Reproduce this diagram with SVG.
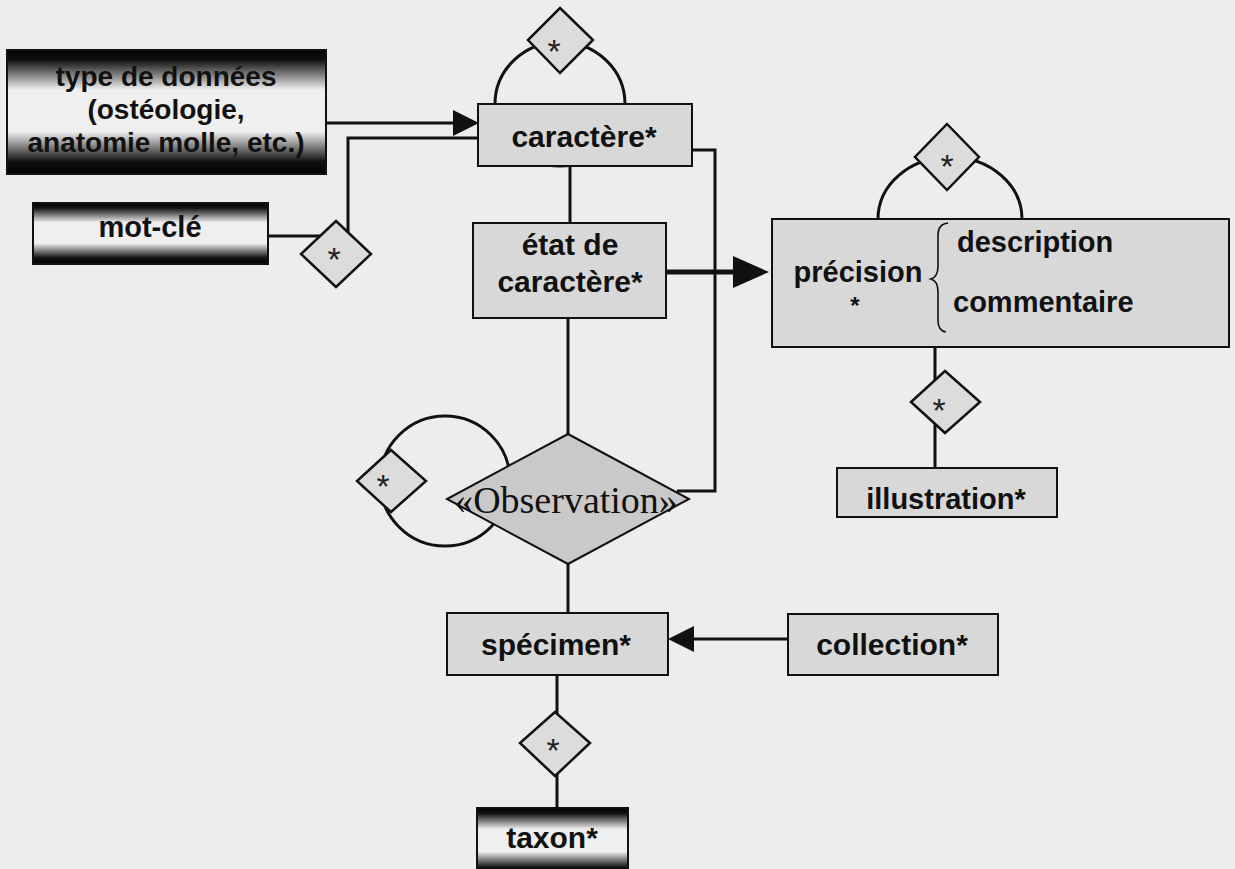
<svg xmlns="http://www.w3.org/2000/svg" width="1235" height="869" viewBox="0 0 1235 869">
  <defs>
    <linearGradient id="dark" x1="0" y1="0" x2="0" y2="1">
      <stop offset="0" stop-color="#000"/>
      <stop offset="0.08" stop-color="#111"/>
      <stop offset="0.32" stop-color="#efefef"/>
      <stop offset="0.66" stop-color="#efefef"/>
      <stop offset="0.9" stop-color="#111"/>
      <stop offset="1" stop-color="#000"/>
    </linearGradient>
    <style>
      .box { fill: #d8d8d8; stroke: #111; stroke-width: 2; }
      .dark { fill: url(#dark); stroke: #111; stroke-width: 2; }
      .dia { fill: #dcdcdc; stroke: #111; stroke-width: 2.5; }
      .obs { fill: #c9c9c9; stroke: #111; stroke-width: 2; }
      .ln { fill: none; stroke: #111; stroke-width: 3; }
      .thick { fill: none; stroke: #111; stroke-width: 5; }
      .head { fill: #111; }
      .lbl { font-family: "Liberation Sans", Arial, sans-serif; font-weight: bold; font-size: 30px; fill: #111; text-anchor: middle; }
      .star { font-family: "Liberation Sans", Arial, sans-serif; font-size: 34px; fill: #222; text-anchor: middle; }
      .serif { font-family: "Liberation Serif", "Times New Roman", serif; font-size: 38px; fill: #111; text-anchor: middle; }
    </style>
  </defs>

  <rect width="1235" height="869" fill="#ededed"/>

  <!-- connectors and association loops -->
  <g id="connectors">
    <!-- type de données to caractère -->
    <line class="ln" x1="326" y1="123" x2="456" y2="123"/>
    <polygon class="head" points="453,110 479,123 453,136"/>
    <!-- mot-clé to caractère via association -->
    <line class="ln" x1="268" y1="236" x2="320" y2="236"/>
    <polyline class="ln" points="348,232 348,138 478,138"/>
    <!-- caractère self association -->
    <ellipse class="ln" cx="560" cy="104" rx="65" ry="62"/>
    <!-- caractère to état de caractère -->
    <line class="ln" x1="570" y1="166" x2="570" y2="223"/>
    <!-- caractère to Observation -->
    <polyline class="ln" points="692,150 715,150 715,491 677,491"/>
    <!-- état de caractère to précision -->
    <line class="thick" x1="666" y1="272" x2="736" y2="272"/>
    <polygon class="head" points="733,256 769,272 733,288"/>
    <!-- état de caractère to Observation -->
    <line class="ln" x1="568" y1="318" x2="568" y2="434"/>
    <!-- Observation self association -->
    <circle class="ln" cx="445" cy="481" r="65"/>
    <!-- Observation to spécimen -->
    <line class="ln" x1="568" y1="564" x2="568" y2="614"/>
    <!-- précision self association -->
    <ellipse class="ln" cx="950" cy="219" rx="72" ry="62"/>
    <!-- précision to illustration -->
    <line class="ln" x1="935" y1="347" x2="935" y2="468"/>
    <!-- collection to spécimen -->
    <line class="ln" x1="788" y1="639" x2="690" y2="639"/>
    <polygon class="head" points="694,626 668,639 694,652"/>
    <!-- spécimen to taxon -->
    <line class="ln" x1="557" y1="675" x2="557" y2="808"/>
  </g>

  <g id="type-donnees">
    <rect class="dark" x="7" y="50" width="319" height="124"/>
    <text class="lbl" style="font-size:28px" x="166" y="86">type de données</text>
    <text class="lbl" style="font-size:28px" x="166" y="119">(ostéologie,</text>
    <text class="lbl" style="font-size:28px" x="166" y="152">anatomie molle, etc.)</text>
  </g>

  <g id="mot-cle">
    <rect class="dark" x="33" y="203" width="235" height="61"/>
    <text class="lbl" style="font-size:29px" x="150" y="237">mot-clé</text>
  </g>

  <g id="assoc-mot-cle">
    <polygon class="dia" points="336,221 371,254 336,287 301,254"/>
    <text class="star" x="334" y="271">*</text>
  </g>

  <g id="caractere">
    <rect class="box" x="478" y="104" width="214" height="62"/>
    <text class="lbl" x="584" y="147">caractère*</text>
  </g>

  <g id="assoc-caractere">
    <polygon class="dia" points="560,8 593,40 560,73 528,40"/>
    <text class="star" x="554" y="63">*</text>
  </g>

  <g id="etat-caractere">
    <rect class="box" x="473" y="223" width="193" height="95"/>
    <text class="lbl" x="570" y="255">état de</text>
    <text class="lbl" x="570" y="292">caractère*</text>
  </g>

  <g id="precision">
    <rect class="box" x="772" y="219" width="457" height="128"/>
    <text class="lbl" style="font-size:29px" x="858" y="282">précision</text>
    <text class="lbl" style="font-size:24px" x="855" y="314">*</text>
    <path d="M948,223 Q938,224 938,235 L938,266 Q938,277 931,279 Q938,281 938,292 L938,320 Q938,331 946,332" fill="none" stroke="#111" stroke-width="1.6"/>
    <text class="lbl" style="font-size:29px;text-anchor:start" x="957" y="252">description</text>
    <text class="lbl" style="font-size:29px;text-anchor:start" x="953" y="312">commentaire</text>
  </g>

  <g id="assoc-precision">
    <polygon class="dia" points="947,124 979,157 947,190 915,157"/>
    <text class="star" x="947" y="178">*</text>
  </g>

  <g id="assoc-illustration">
    <polygon class="dia" points="945,371 980,402 945,433 911,402"/>
    <text class="star" x="939" y="422">*</text>
  </g>

  <g id="illustration">
    <rect class="box" x="837" y="468" width="220" height="49"/>
    <text class="lbl" style="font-size:29px" x="946" y="509">illustration*</text>
  </g>

  <g id="observation">
    <polygon class="obs" points="568,434 689,499 568,564 447,499"/>
    <text class="serif" x="566" y="513">«Observation»</text>
  </g>

  <g id="assoc-observation">
    <polygon class="dia" points="391,450 426,481 391,512 357,481"/>
    <text class="star" x="383" y="498">*</text>
  </g>

  <g id="specimen">
    <rect class="box" x="447" y="613" width="221" height="62"/>
    <text class="lbl" x="556" y="655">spécimen*</text>
  </g>

  <g id="collection">
    <rect class="box" x="788" y="614" width="210" height="61"/>
    <text class="lbl" x="892" y="655">collection*</text>
  </g>

  <g id="assoc-taxon">
    <polygon class="dia" points="555,712 590,743 555,776 520,743"/>
    <text class="star" x="553" y="762">*</text>
  </g>

  <g id="taxon">
    <rect class="dark" x="477" y="808" width="151" height="66"/>
    <text class="lbl" x="552" y="848">taxon*</text>
  </g>
</svg>
